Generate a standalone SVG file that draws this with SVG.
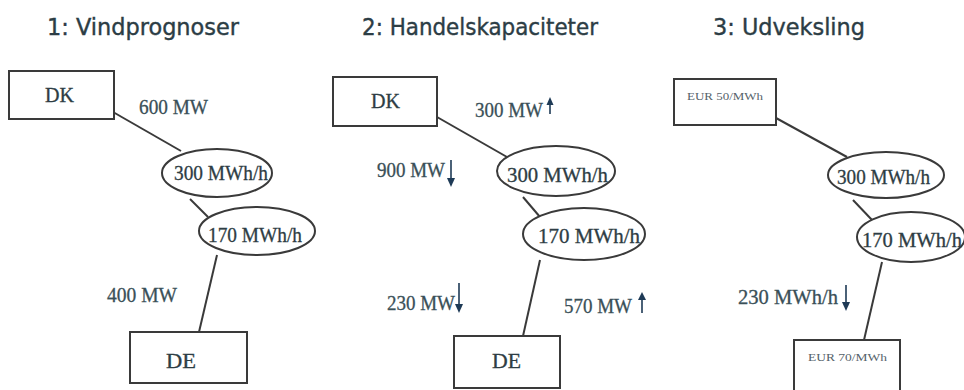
<svg xmlns="http://www.w3.org/2000/svg" width="964" height="390" viewBox="0 0 964 390">
<style>
.title{font-family:"DejaVu Sans","Liberation Sans",sans-serif;font-size:23px;fill:#2c3d45;stroke:#2c3d45;stroke-width:0.4}
.box{fill:#fff;stroke:#3a3a3a;stroke-width:2}
.ell{fill:#fff;stroke:#3a3a3a;stroke-width:2}
.nt{font-family:"Liberation Serif",serif;font-size:20px;fill:#2e3d44;stroke:#2e3d44;stroke-width:0.3}
.lbl{font-family:"Liberation Serif",serif;font-size:20px;fill:#3a5058;stroke:#3a5058;stroke-width:0.3}
.sm{font-family:"Liberation Serif",serif;font-size:11px;fill:#55626a}
.con{stroke:#3a3a3a;stroke-width:2;fill:none}
.arr{stroke:#1e3a56;stroke-width:1.6;fill:none}
.ah{fill:#1e3a56}
</style>
<rect width="964" height="390" fill="#fff"/>
<text class="title" x="47" y="35" textLength="192" lengthAdjust="spacingAndGlyphs">1: Vindprognoser</text>
<text class="title" x="362" y="35" textLength="236" lengthAdjust="spacingAndGlyphs">2: Handelskapaciteter</text>
<text class="title" x="713" y="35" textLength="152" lengthAdjust="spacingAndGlyphs">3: Udveksling</text>
<g id="connectors">
<line class="con" x1="113" y1="112" x2="181" y2="151"/>
<line class="con" x1="190" y1="199" x2="208" y2="217"/>
<line class="con" x1="217" y1="255" x2="199" y2="332"/>
<line class="con" x1="437" y1="117" x2="507" y2="157"/>
<line class="con" x1="523" y1="197" x2="540" y2="217"/>
<line class="con" x1="540" y1="260" x2="523" y2="336"/>
<line class="con" x1="776" y1="118" x2="847" y2="157"/>
<line class="con" x1="853" y1="200" x2="872" y2="220"/>
<line class="con" x1="882" y1="262" x2="864" y2="340"/>
</g>
<g id="p1-dk"><rect class="box" x="9" y="71" width="105" height="48"/><text class="nt" x="45" y="102" textLength="29" lengthAdjust="spacingAndGlyphs">DK</text></g>
<g id="p1-e300"><ellipse class="ell" cx="217" cy="173" rx="55" ry="24"/><text class="nt" x="174" y="180" textLength="94" lengthAdjust="spacingAndGlyphs">300 MWh/h</text></g>
<g id="p1-e170"><ellipse class="ell" cx="257" cy="231" rx="58" ry="24"/><text class="nt" x="208" y="242" textLength="94" lengthAdjust="spacingAndGlyphs">170 MWh/h</text></g>
<g id="p1-de"><rect class="box" x="130" y="332" width="117" height="51"/><text class="nt" x="166" y="368" textLength="30" lengthAdjust="spacingAndGlyphs">DE</text></g>
<g id="p1-labels">
<text class="lbl" x="139" y="114" textLength="69" lengthAdjust="spacingAndGlyphs">600 MW</text>
<text class="lbl" x="107" y="302" textLength="70" lengthAdjust="spacingAndGlyphs">400 MW</text>
</g>
<g id="p2-dk"><rect class="box" x="333" y="77" width="104" height="49"/><text class="nt" x="371" y="108" textLength="29" lengthAdjust="spacingAndGlyphs">DK</text></g>
<g id="p2-e300"><ellipse class="ell" cx="556" cy="171" rx="59" ry="25"/><text class="nt" x="507" y="182" textLength="101" lengthAdjust="spacingAndGlyphs">300 MWh/h</text></g>
<g id="p2-e170"><ellipse class="ell" cx="584" cy="234" rx="61" ry="26"/><text class="nt" x="538" y="243" textLength="102" lengthAdjust="spacingAndGlyphs">170 MWh/h</text></g>
<g id="p2-de"><rect class="box" x="454" y="336" width="106" height="52"/><text class="nt" x="492" y="368" textLength="29" lengthAdjust="spacingAndGlyphs">DE</text></g>
<g id="p2-labels">
<text class="lbl" x="475" y="117" textLength="68" lengthAdjust="spacingAndGlyphs">300 MW</text>
<line class="arr" x1="550" y1="103" x2="550" y2="114"/><path class="ah" d="M546.5,105 L550,97 L553.5,105 Z"/>
<text class="lbl" x="377" y="177" textLength="68" lengthAdjust="spacingAndGlyphs">900 MW</text>
<line class="arr" x1="451" y1="160" x2="451" y2="182"/><path class="ah" d="M447,178 L451,187 L455,178 Z"/>
<text class="lbl" x="387" y="310" textLength="68" lengthAdjust="spacingAndGlyphs">230 MW</text>
<line class="arr" x1="459" y1="283" x2="459" y2="308"/><path class="ah" d="M455,304 L459,313 L463,304 Z"/>
<text class="lbl" x="564" y="313" textLength="68" lengthAdjust="spacingAndGlyphs">570 MW</text>
<line class="arr" x1="642" y1="297" x2="642" y2="313"/><path class="ah" d="M638,300 L642,292 L646,300 Z"/>
</g>
<g id="p3-dk"><rect class="box" x="674" y="79" width="102" height="46"/><text class="sm" x="687" y="100" textLength="76" lengthAdjust="spacingAndGlyphs">EUR 50/MWh</text></g>
<g id="p3-e300"><ellipse class="ell" cx="886" cy="175" rx="58" ry="23"/><text class="nt" x="837" y="184" textLength="93" lengthAdjust="spacingAndGlyphs">300 MWh/h</text></g>
<g id="p3-e170"><ellipse class="ell" cx="911" cy="237" rx="54" ry="25"/><text class="nt" x="862" y="247" textLength="100" lengthAdjust="spacingAndGlyphs">170 MWh/h</text></g>
<g id="p3-de"><rect class="box" x="794" y="340" width="106" height="63"/><text class="sm" x="808" y="361" textLength="79" lengthAdjust="spacingAndGlyphs">EUR 70/MWh</text></g>
<g id="p3-labels">
<text class="lbl" x="738" y="304" textLength="100" lengthAdjust="spacingAndGlyphs">230 MWh/h</text>
<line class="arr" x1="846" y1="285" x2="846" y2="302"/><path class="ah" d="M842,302 L846,311 L850,302 Z"/>
</g>
</svg>
